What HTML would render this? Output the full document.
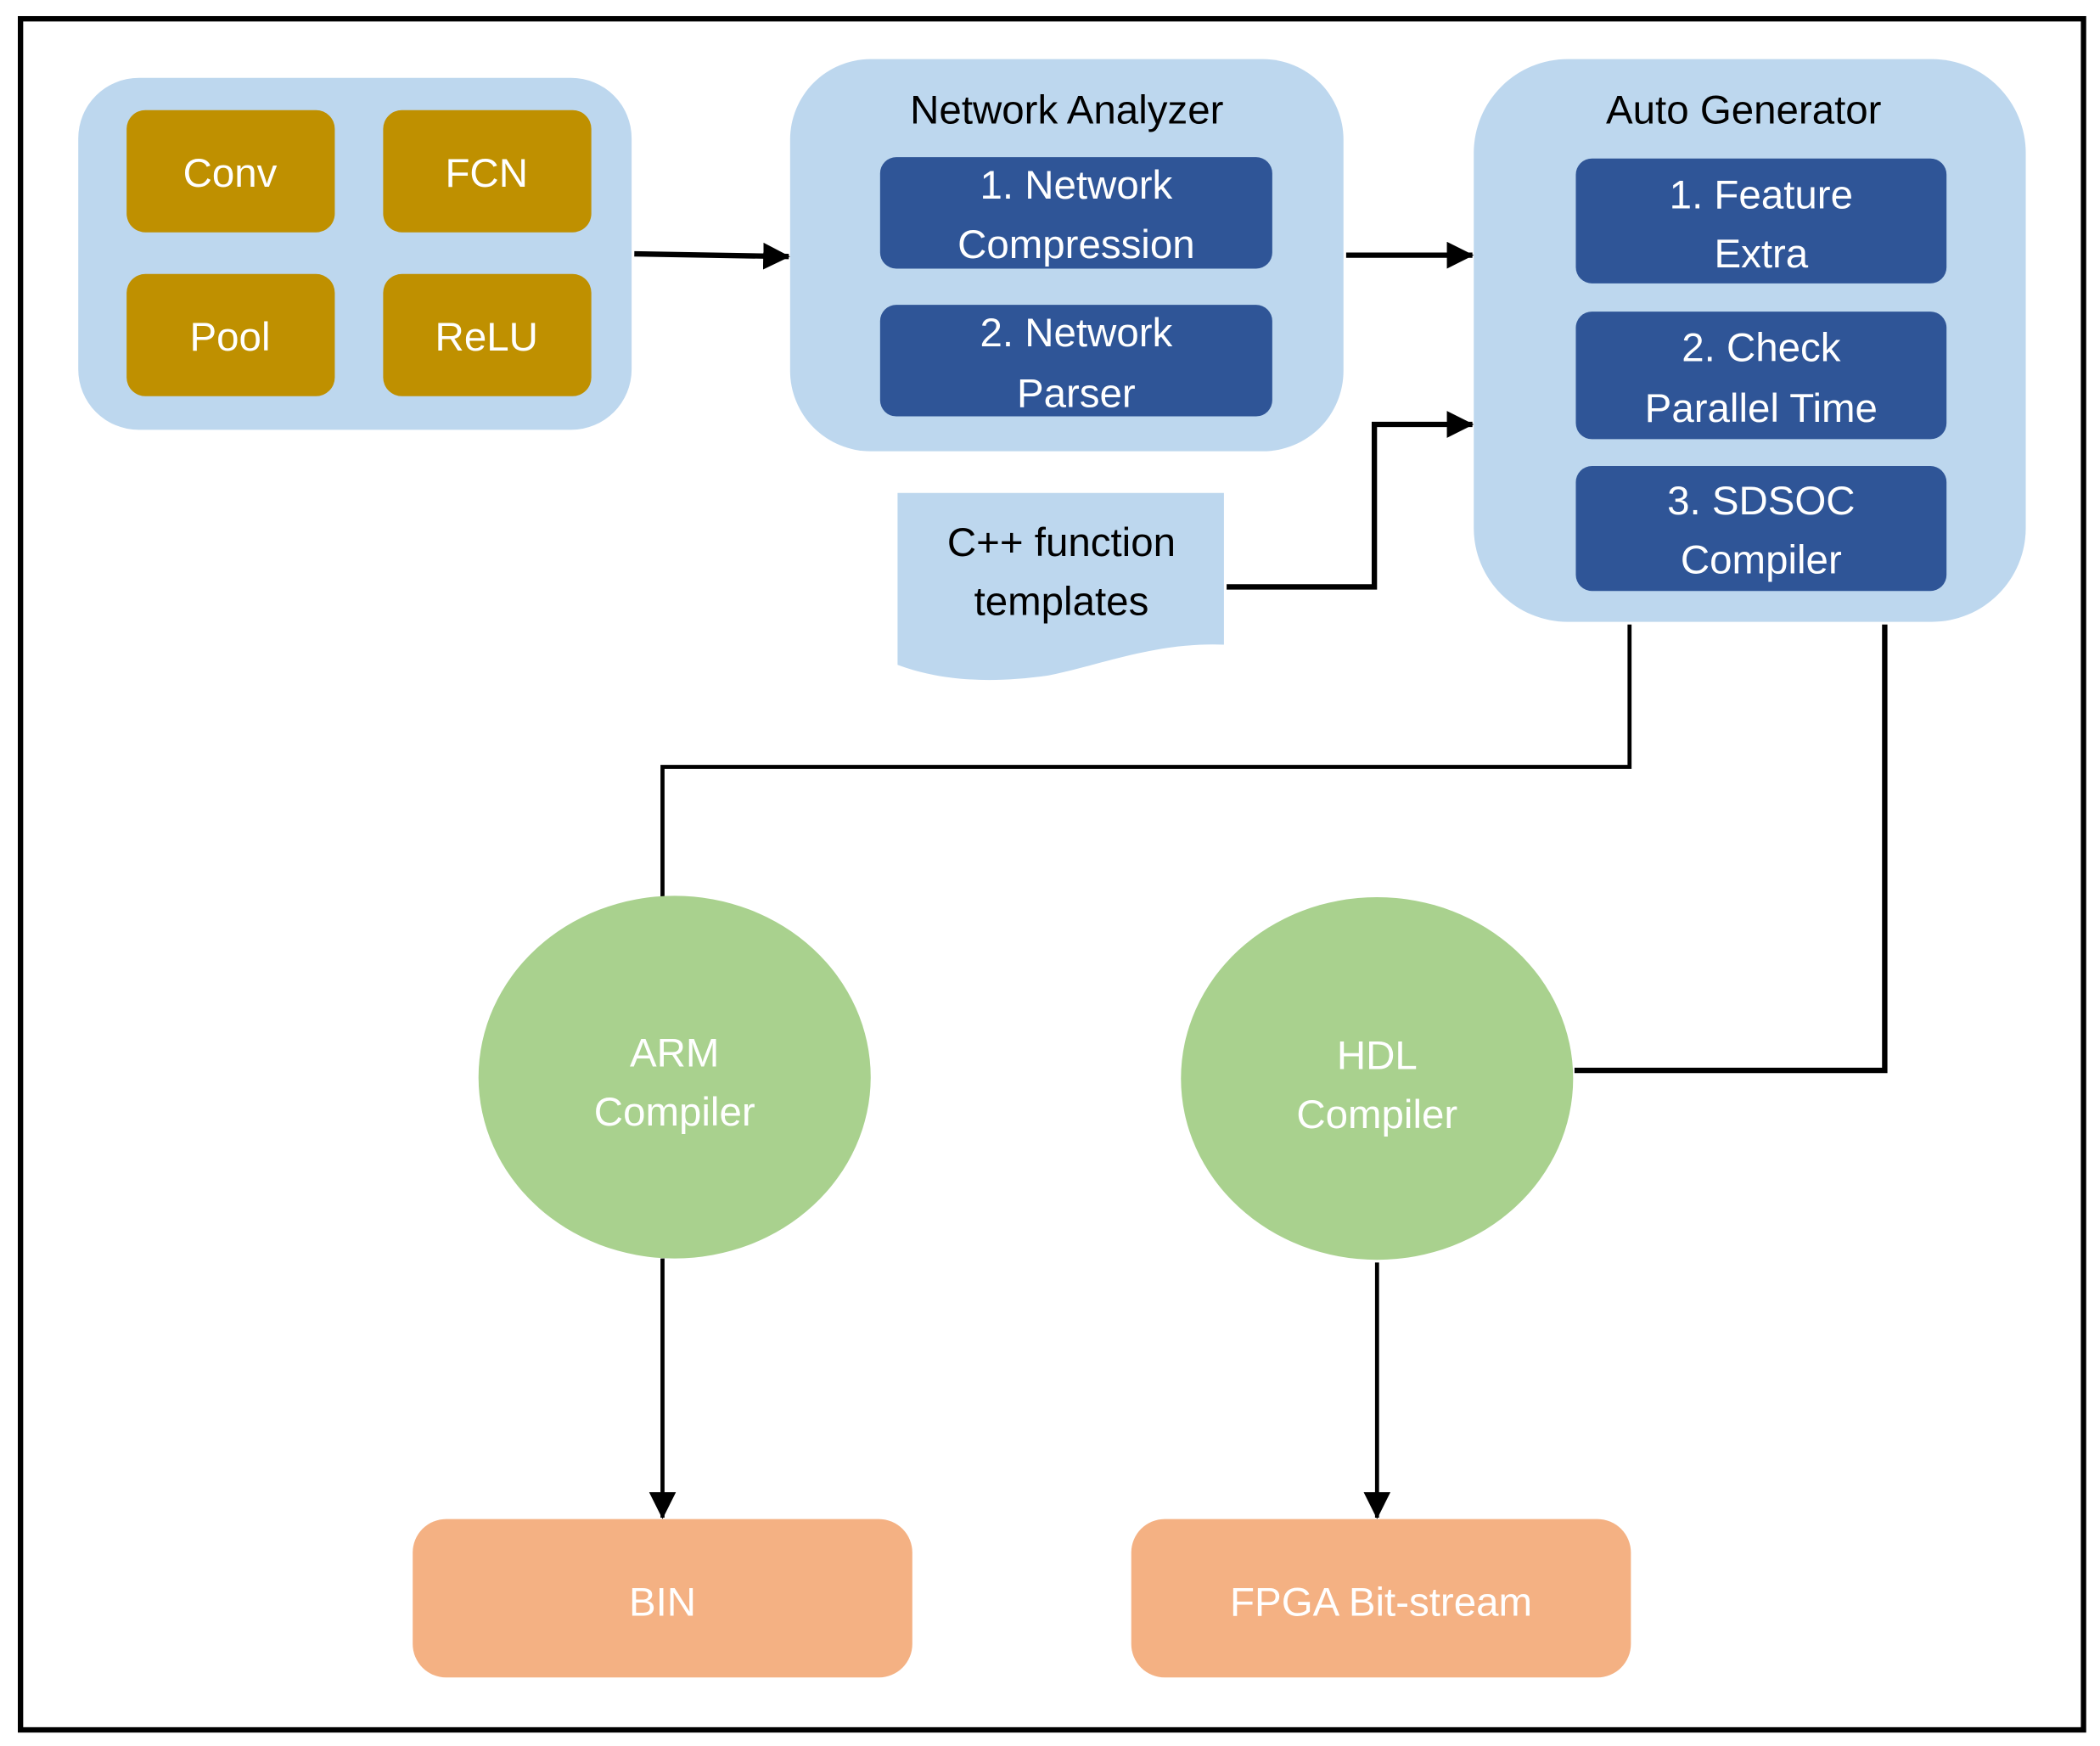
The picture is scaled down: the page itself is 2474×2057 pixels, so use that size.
<!DOCTYPE html>
<html><head><style>html,body{margin:0;padding:0;background:#fff}svg{display:block}</style></head>
<body>
<svg width="2474" height="2057" viewBox="0 0 1563 1300" xmlns="http://www.w3.org/2000/svg" font-family="Liberation Sans, sans-serif">
<defs>
<marker id="a" markerWidth="10" markerHeight="10" refX="9" refY="5" orient="auto" markerUnits="userSpaceOnUse" viewBox="0 0 10 10">
<path d="M0,0 L10,5 L0,10 z" fill="#000"/></marker>
<marker id="b" markerWidth="20" markerHeight="20" refX="19" refY="10" orient="auto" markerUnits="userSpaceOnUse" viewBox="0 0 20 20">
<path d="M0,0 L20,10 L0,20 z" fill="#000"/></marker>
</defs>
<rect x="15" y="14" width="1536" height="1274" fill="#fff" stroke="#000" stroke-width="4"/>
<rect x="58" y="58" width="412" height="262" rx="45" fill="#bdd7ee"/>
<g fill="#bf9000">
<rect x="94" y="82" width="155" height="91" rx="14"/>
<rect x="285" y="82" width="155" height="91" rx="14"/>
<rect x="94" y="204" width="155" height="91" rx="14"/>
<rect x="285" y="204" width="155" height="91" rx="14"/>
</g>
<g fill="#fff" font-size="30" text-anchor="middle">
<text x="171" y="139">Conv</text><text x="362" y="139">FCN</text>
<text x="171" y="261">Pool</text><text x="362" y="261">ReLU</text>
</g>
<rect x="588" y="44" width="412" height="292" rx="60" fill="#bdd7ee"/>
<rect x="1097" y="44" width="411" height="419" rx="70" fill="#bdd7ee"/>
<g font-size="30" text-anchor="middle" fill="#000">
<text x="794" y="92">Network Analyzer</text>
<text x="1298" y="92">Auto Generator</text>
</g>
<g fill="#2f5597">
<rect x="655" y="117" width="292" height="83" rx="12"/>
<rect x="655" y="227" width="292" height="83" rx="12"/>
<rect x="1173" y="118" width="276" height="93" rx="12"/>
<rect x="1173" y="232" width="276" height="95" rx="12"/>
<rect x="1173" y="347" width="276" height="93" rx="12"/>
</g>
<g fill="#fff" font-size="30" text-anchor="middle">
<text x="801" y="148">1. Network</text><text x="801" y="192">Compression</text>
<text x="801" y="258">2. Network</text><text x="801" y="303">Parser</text>
<text x="1311" y="155">1. Feature</text><text x="1311" y="199">Extra</text>
<text x="1311" y="269">2. Check</text><text x="1311" y="314">Parallel Time</text>
<text x="1311" y="383">3. SDSOC</text><text x="1311" y="427">Compiler</text>
</g>
<path d="M668,367 H911 V480 C860,478 820,495 780,503 C730,510 695,505 668,495 Z" fill="#bdd7ee"/>
<g font-size="30" text-anchor="middle" fill="#000">
<text x="790" y="414">C++ function</text><text x="790" y="458">templates</text>
</g>
<g stroke="#000" fill="none">
<line x1="472" y1="189" x2="587" y2="191" stroke-width="4" marker-end="url(#b)"/>
<line x1="1002" y1="190" x2="1096" y2="190" stroke-width="4" marker-end="url(#b)"/>
<polyline points="913,437 1023,437 1023,316 1096,316" stroke-width="4" marker-end="url(#b)"/>
<polyline points="1213,465 1213,571 493,571 493,668" stroke-width="3"/>
<polyline points="1403,465 1403,797 1172,797" stroke-width="4"/>
<line x1="493" y1="937" x2="493" y2="1130" stroke-width="3" marker-end="url(#b)"/>
<line x1="1025" y1="940" x2="1025" y2="1130" stroke-width="3" marker-end="url(#b)"/>
</g>
<ellipse cx="502" cy="802" rx="146" ry="135" fill="#a9d18e"/>
<ellipse cx="1025" cy="803" rx="146" ry="135" fill="#a9d18e"/>
<g fill="#fff" font-size="30" text-anchor="middle">
<text x="502" y="794">ARM</text><text x="502" y="838">Compiler</text>
<text x="1025" y="796">HDL</text><text x="1025" y="840">Compiler</text>
</g>
<rect x="307" y="1131" width="372" height="118" rx="25" fill="#f4b183"/>
<rect x="842" y="1131" width="372" height="118" rx="25" fill="#f4b183"/>
<g fill="#fff" font-size="30" text-anchor="middle">
<text x="493" y="1203">BIN</text><text x="1028" y="1203">FPGA Bit-stream</text>
</g>
</svg>
</body></html>
